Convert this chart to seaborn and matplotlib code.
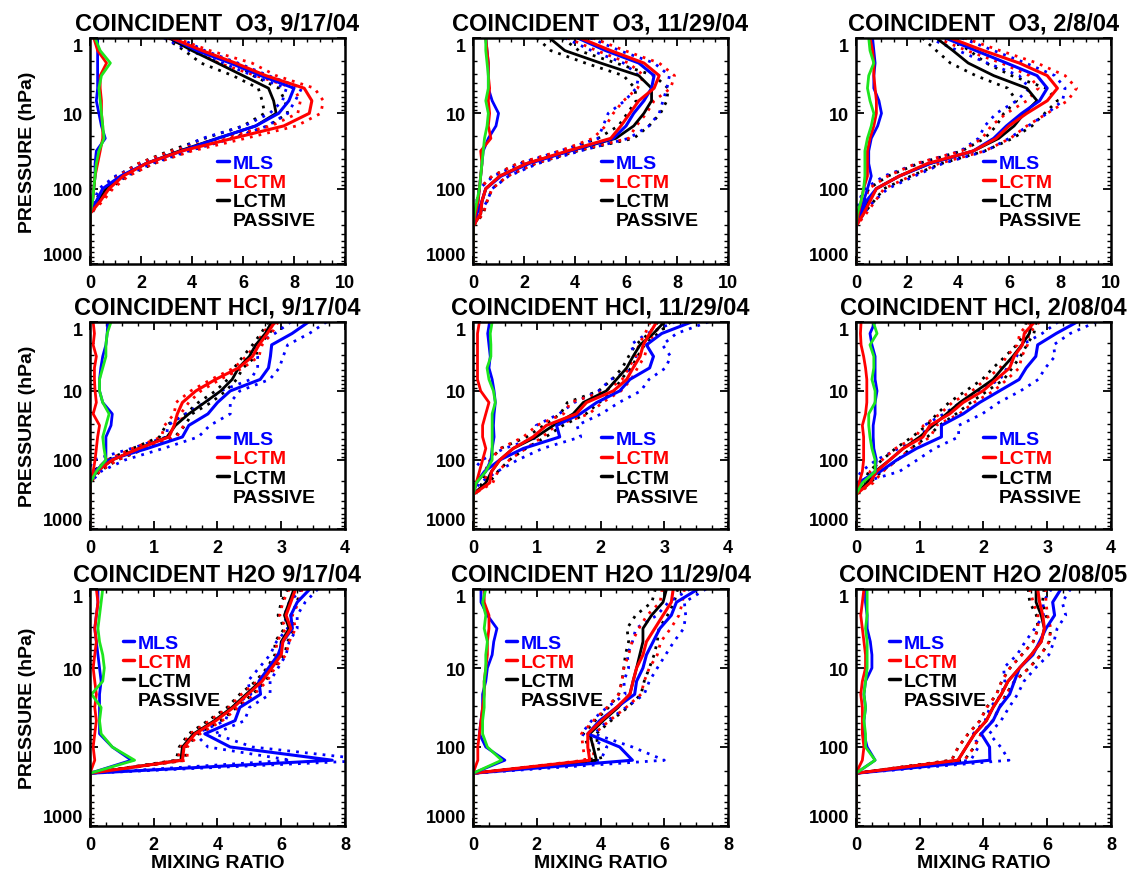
import matplotlib
matplotlib.use("Agg")
import matplotlib.pyplot as plt
import seaborn as sns
from matplotlib.lines import Line2D
from matplotlib.ticker import AutoMinorLocator, LogLocator, NullFormatter

# ---------------- data ----------------
P = [1, 1.47, 2.15, 3.16, 4.64, 6.81, 10, 14.7, 21.5, 31.6, 46.4, 68.1,
     100, 147, 215, 316, 464, 681, 1000]

# O3 9/17/04
O3A_MLS = [3.2, 4.2, 5.5, 6.7, 8.0, 7.8, 7.4, 6.5, 5.0, 3.6, 2.2, 1.2, 0.5, 0.25, 0, 0, 0, 0, 0]
O3A_LCTM = [3.2, 4.4, 5.7, 6.9, 8.4, 8.7, 8.6, 7.6, 5.6, 3.6, 2.2, 1.3, 0.75, 0.4, 0, 0, 0, 0, 0]
O3A_PAS = [3.1, 4.0, 5.0, 6.0, 7.0, 7.2, 7.3, 6.5, 5.0, 3.5, 2.2, 1.25, 0.65, 0.3, 0, 0, 0, 0, 0]
O3A_MLS_SD = [0.3, 0.3, 0.3, 0.3, 0.3, 0.25, 0.35, 0.45, 0.6, 0.25, 0.2, 0.2, 0.15, 0.1, 0, 0, 0, 0, 0]
O3A_LCTM_SD = [0.15, 0.3, 0.65, 0.4, 0.4, 0.45, 0.45, 0.5, 0.5, 0.4, 0.3, 0.2, 0.15, 0.1, 0, 0, 0, 0, 0]
O3A_GRN = [0.2, 0.4, 0.8, 0.45, 0.35, 0.4, 0.45, 0.5, 0.55, 0.35, 0.25, 0.2, 0.15, 0.1, 0, 0, 0, 0, 0]

# O3 11/29/04
O3B_MLS = [4.1, 5.2, 6.5, 7.1, 7.0, 6.7, 6.3, 6.0, 5.5, 3.8, 2.2, 1.1, 0.5, 0.35, 0.15, 0, 0, 0, 0]
O3B_LCTM = [4.2, 5.4, 6.7, 7.3, 7.1, 6.5, 6.15, 5.8, 5.4, 3.7, 2.1, 1.05, 0.5, 0.35, 0.3, 0, 0, 0, 0]
O3B_PAS = [3.0, 3.6, 5.0, 6.5, 7.0, 7.0, 6.7, 6.3, 5.6, 3.8, 2.1, 1.05, 0.5, 0.35, 0.3, 0, 0, 0, 0]
O3B_MLS_SD = [0.5, 0.55, 0.6, 0.6, 0.6, 0.75, 1.0, 0.9, 0.6, 0.4, 0.35, 0.3, 0.25, 0.2, 0.1, 0, 0, 0, 0]
O3B_LCTM_SD = [0.5, 0.55, 0.6, 0.6, 0.65, 0.6, 0.65, 0.6, 0.7, 0.3, 0.35, 0.3, 0.25, 0.2, 0.1, 0, 0, 0, 0]
O3B_GRN = [0.5, 0.5, 0.55, 0.6, 0.6, 0.5, 0.6, 0.55, 0.45, 0.4, 0.35, 0.3, 0.25, 0.15, 0.05, 0, 0, 0, 0]

# O3 2/8/04
O3C_MLS = [3.5, 4.7, 5.9, 7.1, 7.5, 7.2, 6.5, 5.9, 5.4, 4.6, 2.9, 1.7, 0.8, 0.4, 0.2, 0, 0, 0, 0]
O3C_LCTM = [3.7, 5.0, 6.4, 7.5, 7.9, 7.5, 6.7, 6.0, 5.5, 4.6, 2.8, 1.7, 0.8, 0.55, 0.3, 0, 0, 0, 0]
O3C_PAS = [3.15, 3.8, 4.4, 5.4, 6.7, 7.1, 6.6, 6.2, 5.6, 4.6, 2.9, 1.7, 0.8, 0.5, 0.2, 0, 0, 0, 0]
O3C_MLS_SD = [0.65, 0.7, 0.75, 0.7, 0.7, 0.9, 1.0, 0.85, 0.6, 0.5, 0.5, 0.6, 0.45, 0.3, 0.1, 0, 0, 0, 0]
O3C_LCTM_SD = [0.55, 0.65, 0.7, 0.7, 0.75, 0.8, 0.8, 0.7, 0.55, 0.45, 0.45, 0.45, 0.3, 0.2, 0.1, 0, 0, 0, 0]
O3C_GRN = [0.5, 0.55, 0.7, 0.5, 0.45, 0.55, 0.7, 0.6, 0.45, 0.35, 0.35, 0.35, 0.3, 0.2, 0.05, 0, 0, 0, 0]

# HCl 9/17/04
HCA_MLS = [3.43, 3.17, 2.85, 2.83, 2.8, 2.67, 2.2, 2.0, 1.85, 1.55, 1.45, 0.9, 0.3, 0.07, 0, 0, 0, 0, 0]
HCA_LCTM = [2.9, 2.78, 2.65, 2.55, 2.33, 1.97, 1.66, 1.45, 1.37, 1.32, 1.24, 0.77, 0.35, 0.1, 0, 0, 0, 0, 0]
HCA_PAS = [2.85, 2.75, 2.6, 2.5, 2.33, 2.23, 2.05, 1.8, 1.55, 1.34, 1.21, 0.77, 0.35, 0.1, 0, 0, 0, 0, 0]
HCA_MLS_SD = [0.28, 0.27, 0.25, 0.2, 0.17, 0.15, 0.15, 0.2, 0.35, 0.33, 0.25, 0.25, 0.25, 0.1, 0, 0, 0, 0, 0]
HCA_LCTM_SD = [0.05, 0.07, 0.05, 0.1, 0.07, 0.07, 0.08, 0.1, 0.05, 0.15, 0.12, 0.1, 0.08, 0.05, 0, 0, 0, 0, 0]
HCA_GRN = [0.33, 0.27, 0.25, 0.25, 0.2, 0.15, 0.15, 0.2, 0.3, 0.25, 0.2, 0.22, 0.25, 0.1, 0, 0, 0, 0, 0]

# HCl 11/29/04
HCB_MLS = [3.43, 2.96, 2.72, 2.83, 2.77, 2.46, 2.3, 1.94, 1.68, 1.31, 1.36, 0.79, 0.42, 0.18, 0.05, 0, 0, 0, 0]
HCB_LCTM = [2.88, 2.77, 2.67, 2.62, 2.51, 2.41, 2.2, 1.78, 1.62, 1.15, 0.94, 0.63, 0.42, 0.29, 0.26, 0, 0, 0, 0]
HCB_PAS = [3.0, 2.83, 2.62, 2.51, 2.41, 2.25, 2.09, 1.73, 1.57, 1.26, 0.99, 0.63, 0.42, 0.29, 0.2, 0, 0, 0, 0]
HCB_MLS_SD = [0.26, 0.23, 0.25, 0.27, 0.25, 0.3, 0.33, 0.35, 0.33, 0.32, 0.33, 0.3, 0.28, 0.2, 0.05, 0, 0, 0, 0]
HCB_LCTM_SD = [0.1, 0.07, 0.07, 0.07, 0.07, 0.07, 0.12, 0.25, 0.2, 0.15, 0.15, 0.2, 0.15, 0.1, 0.05, 0, 0, 0, 0]
HCB_GRN = [0.3, 0.27, 0.28, 0.28, 0.22, 0.25, 0.32, 0.35, 0.3, 0.3, 0.3, 0.3, 0.3, 0.2, 0.05, 0, 0, 0, 0]

# HCl 2/08/04
HCC_MLS = [3.47, 3.14, 2.85, 2.82, 2.67, 2.56, 2.25, 1.94, 1.68, 1.34, 1.34, 0.95, 0.64, 0.38, 0.02, 0, 0, 0, 0]
HCC_LCTM = [2.8, 2.64, 2.61, 2.48, 2.41, 2.2, 1.99, 1.68, 1.47, 1.16, 1.05, 0.74, 0.53, 0.32, 0.22, 0, 0, 0, 0]
HCC_PAS = [2.75, 2.72, 2.6, 2.46, 2.3, 2.15, 1.89, 1.63, 1.42, 1.21, 1.0, 0.74, 0.53, 0.3, 0.17, 0, 0, 0, 0]
HCC_MLS_SD = [0.3, 0.22, 0.25, 0.3, 0.3, 0.3, 0.33, 0.3, 0.3, 0.27, 0.27, 0.28, 0.32, 0.3, 0.05, 0, 0, 0, 0]
HCC_LCTM_SD = [0.08, 0.07, 0.08, 0.12, 0.15, 0.17, 0.17, 0.17, 0.15, 0.1, 0.12, 0.12, 0.12, 0.1, 0.05, 0, 0, 0, 0]
HCC_GRN = [0.27, 0.33, 0.22, 0.28, 0.28, 0.25, 0.3, 0.3, 0.2, 0.2, 0.22, 0.25, 0.3, 0.3, 0.1, 0, 0, 0, 0]

# H2O 9/17/04
H2A_MLS = [6.9, 6.5, 6.3, 6.35, 6.05, 5.9, 5.6, 5.3, 5.35, 4.7, 4.55, 3.6, 4.4, 7.6, 0, 0, 0, 0, 0]
H2A_LCTM = [6.45, 6.3, 6.15, 6.3, 6.05, 6.0, 5.7, 5.4, 4.95, 4.5, 3.95, 3.3, 2.95, 2.9, 0, 0, 0, 0, 0]
H2A_PAS = [6.4, 6.25, 6.1, 6.25, 6.0, 5.95, 5.65, 5.35, 4.9, 4.45, 3.9, 3.25, 2.9, 2.85, 0, 0, 0, 0, 0]
H2A_MLS_SD = [0.25, 0.25, 0.2, 0.15, 0.2, 0.25, 0.3, 0.35, 0.3, 0.3, 0.3, 0.3, 0.7, 1.3, 0, 0, 0, 0, 0]
H2A_LCTM_SD = [0.2, 0.25, 0.2, 0.15, 0.2, 0.15, 0.1, 0.15, 0.2, 0.15, 0.2, 0.15, 0.1, 0.15, 0, 0, 0, 0, 0]
H2A_GRN = [0.4, 0.35, 0.3, 0.25, 0.3, 0.4, 0.45, 0.4, 0.05, 0.35, 0.3, 0.35, 0.7, 1.4, 0, 0, 0, 0, 0]

# H2O 11/29/04
H2B_MLS = [7.06, 6.38, 6.22, 5.86, 5.65, 5.44, 5.33, 5.13, 5.07, 4.5, 3.97, 3.6, 4.6, 5.0, 0, 0, 0, 0, 0]
H2B_LCTM = [6.28, 6.22, 5.96, 5.7, 5.44, 5.33, 5.13, 5.02, 4.92, 4.5, 4.03, 3.6, 3.6, 3.66, 0, 0, 0, 0, 0]
H2B_PAS = [6.07, 5.96, 5.6, 5.33, 5.33, 5.23, 5.13, 5.02, 4.92, 4.55, 4.08, 3.66, 3.77, 3.87, 0, 0, 0, 0, 0]
H2B_MLS_SD = [0.25, 0.25, 0.45, 0.75, 0.65, 0.6, 0.45, 0.4, 0.3, 0.3, 0.25, 0.2, 0.4, 1.0, 0, 0, 0, 0, 0]
H2B_LCTM_SD = [0.35, 0.35, 0.5, 0.5, 0.45, 0.45, 0.4, 0.35, 0.35, 0.3, 0.25, 0.2, 0.15, 0.15, 0, 0, 0, 0, 0]
H2B_GRN = [0.4, 0.3, 0.4, 0.35, 0.45, 0.4, 0.4, 0.35, 0.35, 0.35, 0.3, 0.3, 0.45, 0.9, 0, 0, 0, 0, 0]

# H2O 2/08/05
H2C_MLS = [6.43, 6.17, 6.23, 5.96, 5.76, 5.55, 5.13, 4.97, 4.82, 4.5, 4.3, 3.93, 4.19, 4.2, 0, 0, 0, 0, 0]
H2C_LCTM = [5.7, 5.76, 5.86, 5.91, 5.81, 5.5, 5.13, 4.77, 4.56, 4.3, 4.09, 3.72, 3.46, 3.2, 0, 0, 0, 0, 0]
H2C_PAS = [5.65, 5.65, 5.81, 5.91, 5.81, 5.5, 5.13, 4.77, 4.56, 4.3, 4.09, 3.72, 3.46, 3.2, 0, 0, 0, 0, 0]
H2C_MLS_SD = [0.3, 0.3, 0.35, 0.35, 0.45, 0.5, 0.5, 0.3, 0.25, 0.3, 0.25, 0.25, 0.35, 0.6, 0, 0, 0, 0, 0]
H2C_LCTM_SD = [0.25, 0.2, 0.15, 0.2, 0.25, 0.3, 0.3, 0.2, 0.15, 0.2, 0.2, 0.2, 0.25, 0.2, 0, 0, 0, 0, 0]
H2C_GRN = [0.35, 0.35, 0.35, 0.3, 0.35, 0.35, 0.35, 0.3, 0.25, 0.3, 0.25, 0.3, 0.3, 0.6, 0, 0, 0, 0, 0]

TITLES = ["COINCIDENT  O3, 9/17/04", "COINCIDENT  O3, 11/29/04", "COINCIDENT  O3, 2/8/04",
          "COINCIDENT HCl, 9/17/04", "COINCIDENT HCl, 11/29/04", "COINCIDENT HCl, 2/08/04",
          "COINCIDENT H2O 9/17/04", "COINCIDENT H2O 11/29/04", "COINCIDENT H2O 2/08/05"]
LEGEND_LABELS = ["MLS", "LCTM", "LCTM", "PASSIVE"]
Y_TICKS = [1, 10, 100, 1000]
Y_TICK_LABELS = ["1", "10", "100", "1000"]

panels = [
    (O3A_MLS, O3A_MLS_SD, O3A_LCTM, O3A_LCTM_SD, O3A_PAS, O3A_GRN),
    (O3B_MLS, O3B_MLS_SD, O3B_LCTM, O3B_LCTM_SD, O3B_PAS, O3B_GRN),
    (O3C_MLS, O3C_MLS_SD, O3C_LCTM, O3C_LCTM_SD, O3C_PAS, O3C_GRN),
    (HCA_MLS, HCA_MLS_SD, HCA_LCTM, HCA_LCTM_SD, HCA_PAS, HCA_GRN),
    (HCB_MLS, HCB_MLS_SD, HCB_LCTM, HCB_LCTM_SD, HCB_PAS, HCB_GRN),
    (HCC_MLS, HCC_MLS_SD, HCC_LCTM, HCC_LCTM_SD, HCC_PAS, HCC_GRN),
    (H2A_MLS, H2A_MLS_SD, H2A_LCTM, H2A_LCTM_SD, H2A_PAS, H2A_GRN),
    (H2B_MLS, H2B_MLS_SD, H2B_LCTM, H2B_LCTM_SD, H2B_PAS, H2B_GRN),
    (H2C_MLS, H2C_MLS_SD, H2C_LCTM, H2C_LCTM_SD, H2C_PAS, H2C_GRN),
]

# ---------------- style ----------------
sns.set_theme(style="ticks")
plt.rcParams.update({
    "font.family": ["Liberation Sans", "DejaVu Sans"],
    "font.weight": "bold",
    "axes.labelweight": "bold",
    "axes.titleweight": "bold",
    "text.color": "black",
    "axes.labelcolor": "black",
    "axes.edgecolor": "black",
    "xtick.color": "black",
    "ytick.color": "black",
    "xtick.direction": "in",
    "ytick.direction": "in",
    "xtick.top": True,
    "ytick.right": True,
})

BLUE, RED, BLACK, GREEN = "#0000ff", "#ff0000", "#000000", "#1ee61e"
DOT = (0, (1.0, 2.2))

fig = plt.figure(figsize=(11.36, 8.78), dpi=100)

col_left = [0.0792, 0.4164, 0.7535]
width = 0.2245
row_bottom = [0.6982, 0.3964, 0.0581]
row_height = [0.2574, 0.2358, 0.2699]
xlims = [10, 4, 8]
xsteps = [2, 1, 2]
legend_anchor = [(0.50, 0.485), (0.50, 0.475), (0.128, 0.81)]


def line(ax, x, color, lw=2.0, ls="-"):
    sns.lineplot(x=x, y=P, ax=ax, color=color, lw=lw, linestyle=ls,
                 sort=False, estimator=None, legend=False)


for i, (mls, mls_sd, lctm, lctm_sd, pas, grn) in enumerate(panels):
    r, c = divmod(i, 3)
    ax = fig.add_axes([col_left[c], row_bottom[r], width, row_height[r]])
    ax.set_yscale("log")

    # spread (dotted) lines
    for mean, sd, col in ((pas, lctm_sd, BLACK), (mls, mls_sd, BLUE), (lctm, lctm_sd, RED)):
        line(ax, [m - s for m, s in zip(mean, sd)], col, lw=2.0, ls=DOT)
        line(ax, [m + s for m, s in zip(mean, sd)], col, lw=2.0, ls=DOT)
    # mean profiles
    line(ax, pas, BLACK, lw=2.0)
    line(ax, mls, BLUE, lw=2.2)
    line(ax, lctm, RED, lw=2.2)
    # standard deviation profiles
    line(ax, mls_sd, BLUE, lw=2.0)
    line(ax, lctm_sd, RED, lw=2.0)
    line(ax, grn, GREEN, lw=2.0)

    ax.set_ylim(1000, 1)
    ax.set_xlim(0, xlims[r])
    ax.set_xticks(range(0, xlims[r] + 1, xsteps[r]))
    ax.xaxis.set_minor_locator(AutoMinorLocator(4))
    ax.set_yticks(Y_TICKS, labels=Y_TICK_LABELS)
    ylabels = ax.get_yticklabels()
    ylabels[0].set_verticalalignment("top")
    ylabels[-1].set_verticalalignment("bottom")
    ax.yaxis.set_minor_locator(LogLocator(base=10, subs=range(2, 10)))
    ax.yaxis.set_minor_formatter(NullFormatter())
    ax.tick_params(which="major", length=6, width=1.3, labelsize=13, pad=5)
    ax.tick_params(axis="x", which="major", pad=7)
    ax.tick_params(which="minor", length=3, width=1.0)
    for s in ax.spines.values():
        s.set_linewidth(1.8)
        s.set_color("black")
    ax.set_title(TITLES[i], fontsize=17, fontweight="bold", pad=6, color="black")
    ax.set_xlabel("MIXING RATIO" if r == 2 else "", fontsize=14, fontweight="bold", labelpad=1)
    ax.set_ylabel("PRESSURE (hPa)" if c == 0 else "", fontsize=14, fontweight="bold", labelpad=5)

    handles = [Line2D([], [], color=BLUE, lw=2.5), Line2D([], [], color=RED, lw=2.5),
               Line2D([], [], color=BLACK, lw=2.5), Line2D([], [], color="none", lw=0)]
    ax.legend(handles, LEGEND_LABELS, loc="upper left", bbox_to_anchor=legend_anchor[r],
              frameon=False, handlelength=0.6, handletextpad=0.2, labelspacing=0.08,
              borderpad=0, borderaxespad=0,
              prop={"size": 14, "weight": "bold"},
              labelcolor=[BLUE, RED, BLACK, BLACK])

fig.savefig("out.png", dpi=100)
